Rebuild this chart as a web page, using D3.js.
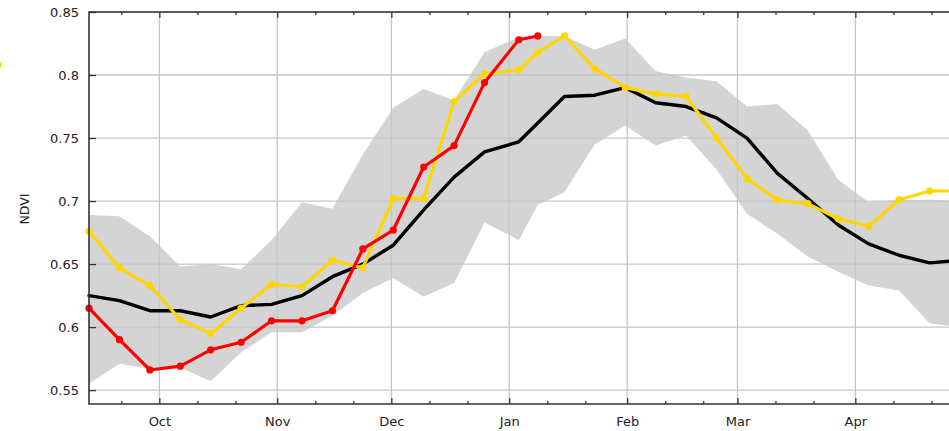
<!DOCTYPE html>
<html>
<head>
<meta charset="utf-8">
<script src="https://cdn.jsdelivr.net/npm/d3@7"></script>
<style>
  html, body { margin: 0; padding: 0; background: #fff; overflow: hidden; }
  svg { display: block; font-family: "DejaVu Sans", sans-serif; }
</style>
</head>
<body>
<svg id="chart" width="949" height="431"></svg>
<script>
// 8-day composite dates (plotted at mid-day)
const dates = [
  "2019-09-12", "2019-09-20", "2019-09-28", "2019-10-06", "2019-10-14", "2019-10-22",
  "2019-10-30", "2019-11-07", "2019-11-15", "2019-11-23", "2019-12-01", "2019-12-09",
  "2019-12-17", "2019-12-25", "2020-01-03", "2020-01-08", "2020-01-15", "2020-01-23",
  "2020-01-31", "2020-02-08", "2020-02-16", "2020-02-24", "2020-03-03", "2020-03-11",
  "2020-03-19", "2020-03-27", "2020-04-04", "2020-04-12", "2020-04-20", "2020-04-28"
];

// long-term mean (black)
const meanNdvi = [
  0.625, 0.621, 0.613, 0.613, 0.608, 0.617, 0.618, 0.625, 0.640, 0.650,
  0.665, 0.693, 0.719, 0.739, 0.747, 0.762, 0.783, 0.784, 0.790, 0.778,
  0.775, 0.766, 0.750, 0.722, 0.702, 0.681, 0.666, 0.657, 0.651, 0.653
];

// range band (grey)
const upperNdvi = [
  0.689, 0.688, 0.672, 0.648, 0.650, 0.646, 0.669, 0.699, 0.694, 0.737,
  0.774, 0.789, 0.780, 0.818, 0.830, 0.831, 0.831, 0.820, 0.829, 0.803,
  0.798, 0.795, 0.775, 0.777, 0.756, 0.717, 0.699, 0.701, 0.701, 0.700
];
const lowerNdvi = [
  0.555, 0.571, 0.567, 0.568, 0.557, 0.580, 0.596, 0.596, 0.609, 0.627,
  0.639, 0.624, 0.635, 0.683, 0.669, 0.697, 0.707, 0.745, 0.760, 0.744,
  0.752, 0.725, 0.690, 0.674, 0.656, 0.644, 0.633, 0.629, 0.603, 0.600
];

// previous season (yellow)
const previousNdvi = [
  0.676, 0.647, 0.633, 0.606, 0.595, 0.615, 0.634, 0.632, 0.653, 0.647,
  0.702, 0.702, 0.779, 0.801, 0.804, 0.818, 0.831, 0.805, 0.790, 0.785,
  0.783, 0.750, 0.718, 0.701, 0.698, 0.686, 0.680, 0.701, 0.708, 0.708
];

// current season (red)
const currentNdvi = [
  0.615, 0.590, 0.566, 0.569, 0.582, 0.588, 0.605, 0.605, 0.613, 0.662,
  0.677, 0.727, 0.744, 0.794, 0.828, 0.831
];

const yTicks = [0.55, 0.6, 0.65, 0.7, 0.75, 0.8, 0.85];
const yLabel = "NDVI";

const parseDate = d3.timeParse("%Y-%m-%d");
const days = dates.map(s => d3.timeHour.offset(parseDate(s), 12));

const plotLeft = 89, plotTop = 12, plotBottom = 404;
const pxPerDay = 3.8033;
const xStart = new Date(2019, 8, 12, 12), xEnd = new Date(2020, 4, 4);
const x = d3.scaleTime()
    .domain([xStart, xEnd])
    .range([plotLeft, plotLeft + d3.timeHour.count(xStart, xEnd) / 24 * pxPerDay]);
const plotRight = x.range()[1];
const y = d3.scaleLinear().domain([0.539, 0.85]).range([plotBottom, plotTop]);

const svg = d3.select("#chart");

const months = d3.timeMonth.range(new Date(2019, 9, 1), new Date(2020, 4, 1));
const minorTicks = d3.timeMonth.range(new Date(2019, 8, 1), new Date(2020, 4, 1))
    .flatMap(m => [11, 21].map(dd => new Date(m.getFullYear(), m.getMonth(), dd)))
    .filter(d => d > xStart && d < xEnd);

// band
const band = d3.area()
    .x((d, i) => x(days[i]))
    .y0((d, i) => y(lowerNdvi[i]))
    .y1(d => y(d));
svg.append("path")
    .datum(upperNdvi)
    .attr("d", band)
    .attr("fill", "#d4d4d4");

// grid
const grid = svg.append("g").attr("stroke", "#c6c6c6").attr("stroke-width", 1.3);
grid.selectAll(".vg").data(months).join("line")
    .attr("x1", d => x(d)).attr("x2", d => x(d))
    .attr("y1", plotTop).attr("y2", plotBottom);
grid.selectAll(".hg").data(yTicks).join("line")
    .attr("x1", plotLeft).attr("x2", plotRight)
    .attr("y1", d => y(d)).attr("y2", d => y(d));

// lines
const line = vals => d3.line()
    .x((d, i) => x(days[i]))
    .y(d => y(d))(vals);

function drawSeries(vals, color, width, dots) {
    svg.append("path")
        .attr("d", line(vals))
        .attr("fill", "none")
        .attr("stroke", color)
        .attr("stroke-width", width)
        .attr("stroke-linejoin", "round")
        .attr("stroke-linecap", "round");
    if (dots) {
        svg.append("g").selectAll("circle")
            .data(vals)
            .join("circle")
            .attr("cx", (d, i) => x(days[i]))
            .attr("cy", d => y(d))
            .attr("r", 3.6)
            .attr("fill", color);
    }
}
drawSeries(meanNdvi, "#000", 3.4, false);
drawSeries(previousNdvi, "#ffd700", 3.2, true);
drawSeries(currentNdvi, "#ff0000", 3.2, true);

// axes
const axisColor = "#333";
function styleAxis(g) {
    g.select(".domain").remove();
    g.selectAll(".tick line").attr("stroke", axisColor).attr("stroke-width", 1.3);
    g.selectAll(".tick text").attr("fill", "#222").style("font-size", "13px")
        .style("font-family", "'DejaVu Sans', sans-serif");
}

svg.append("g")
    .attr("transform", `translate(0,${plotBottom})`)
    .call(d3.axisBottom(x).tickValues(months).tickSize(-6).tickPadding(13)
        .tickFormat(d3.timeFormat("%b")))
    .call(styleAxis);
svg.append("g")
    .attr("transform", `translate(0,${plotBottom})`)
    .call(d3.axisBottom(x).tickValues(minorTicks).tickSize(-3).tickFormat(""))
    .call(styleAxis);
svg.append("g")
    .attr("transform", `translate(0,${plotTop})`)
    .call(d3.axisTop(x).tickValues(months).tickSize(-6).tickFormat(""))
    .call(styleAxis);
svg.append("g")
    .attr("transform", `translate(0,${plotTop})`)
    .call(d3.axisTop(x).tickValues(minorTicks).tickSize(-3).tickFormat(""))
    .call(styleAxis);
svg.append("g")
    .attr("transform", `translate(${plotLeft},0)`)
    .call(d3.axisLeft(y).tickValues(yTicks).tickSize(-7).tickPadding(10)
        .tickFormat(d3.format("~g")))
    .call(styleAxis);

// frame
svg.append("path")
    .attr("d", `M${plotRight},${plotTop}H${plotLeft}V${plotBottom}H${plotRight}`)
    .attr("fill", "none")
    .attr("stroke", axisColor)
    .attr("stroke-width", 1.6);

// y title
svg.append("text")
    .attr("transform", `translate(29,209) rotate(-90)`)
    .attr("text-anchor", "middle")
    .style("font-size", "12.5px")
    .attr("fill", "#222")
    .text(yLabel);

// legend swatches (legend sits left of the visible area)
const legend = svg.append("g").attr("transform", "translate(-2,0)");
legend.append("circle").attr("cx", 0).attr("cy", 65).attr("r", 3.6).attr("fill", "#ffd700");
legend.append("rect").attr("x", -12).attr("y", 98).attr("width", 13).attr("height", 4).attr("fill", "#d4d4d4");
</script>
</body>
</html>
